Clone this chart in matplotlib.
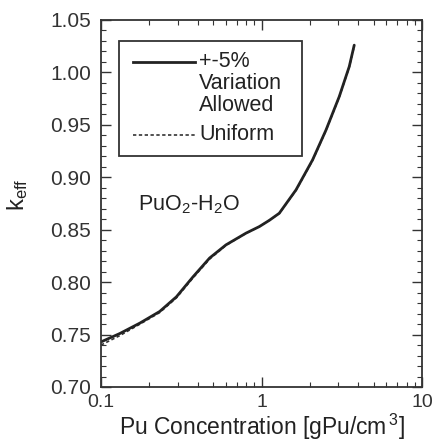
import matplotlib
matplotlib.use("Agg")
import matplotlib.pyplot as plt
from matplotlib.patches import Rectangle
from matplotlib.ticker import MultipleLocator, FixedLocator, FixedFormatter, LogLocator, NullFormatter

plt.rcParams['font.family'] = ['Liberation Sans', 'DejaVu Sans']
plt.rcParams['mathtext.fontset'] = 'custom'
plt.rcParams['mathtext.rm'] = 'Liberation Sans'
plt.rcParams['mathtext.it'] = 'Liberation Sans'
plt.rcParams['mathtext.default'] = 'regular'

# Pu concentration [gPu/cm3]
conc = [0.1, 0.131, 0.175, 0.232, 0.295, 0.374, 0.475, 0.60, 0.80, 0.97,
        1.12, 1.29, 1.64, 2.08, 2.52, 3.05, 3.52, 3.78]
# k_eff, +-5% variation allowed
keff_var = [0.743, 0.751, 0.761, 0.772, 0.786, 0.805, 0.823, 0.8355, 0.8467, 0.853,
            0.859, 0.8657, 0.888, 0.9166, 0.945, 0.977, 1.0056, 1.026]
# k_eff, uniform
keff_uni = [0.740, 0.749, 0.760, 0.771, 0.785, 0.804, 0.822, 0.835, 0.8465, 0.853,
            0.859, 0.8655, 0.8875, 0.916, 0.9445, 0.9765, 1.005, 1.025]

x_ticks = [0.1, 1, 10]
x_ticklabels = ['0.1', '1', '10']

label_fs = 16.5
text_fs = 15.5
ink = '#222222'

fig = plt.figure(figsize=(4.38, 4.44), dpi=100)
ax = fig.add_axes([0.2306, 0.1284, 0.733, 0.8266])

ax.plot(conc, keff_uni, color='#333333', lw=1.2, ls=(0, (2, 1.5)))
ax.plot(conc, keff_var, color=ink, lw=2.0, solid_capstyle='round')

ax.set_xscale('log')
ax.set_xlim(0.1, 10)
ax.set_ylim(0.70, 1.05)
ax.xaxis.set_major_locator(FixedLocator(x_ticks))
ax.xaxis.set_major_formatter(FixedFormatter(x_ticklabels))
ax.xaxis.set_minor_locator(LogLocator(base=10, subs=range(2, 10)))
ax.xaxis.set_minor_formatter(NullFormatter())
ax.yaxis.set_major_locator(MultipleLocator(0.05))
ax.yaxis.set_minor_locator(MultipleLocator(0.01))
ax.yaxis.set_major_formatter(plt.FormatStrFormatter('%.2f'))

ax.tick_params(which='both', direction='in', top=True, right=True, color='#333333')
ax.tick_params(which='major', length=7, width=1.0, labelcolor='#333333')
ax.tick_params(which='minor', length=3.5, width=0.8)
ax.tick_params(axis='x', which='major', pad=5, labelsize=14)
ax.tick_params(axis='y', which='major', pad=7, labelsize=15)
for sp in ax.spines.values():
    sp.set_linewidth(1.3)
    sp.set_color('#333333')

ax.set_xlabel('Pu Concentration [gPu/cm$^{\\,3}$]', fontsize=label_fs, color=ink, va='baseline')
ax.xaxis.set_label_coords(0.5, -0.131)
ax.set_ylabel('k$_{eff}$', fontsize=17, color=ink)
ax.yaxis.set_label_coords(-0.222, 0.523)

# legend box drawn by hand so the handle sits on the first text line
tr = ax.transAxes
ax.add_patch(Rectangle((0.056, 0.629), 0.57, 0.314, transform=tr, fill=False,
                       lw=1.3, edgecolor='#333333'))
ax.plot([0.10, 0.293], [0.886, 0.886], transform=tr, color=ink, lw=2.0)
ax.plot([0.10, 0.293], [0.687, 0.687], transform=tr, color='#333333', lw=1.2, ls=(0, (2, 1.5)))
for txt, yy in [('+-5%', 0.886), ('Variation', 0.828), ('Allowed', 0.768), ('Uniform', 0.687)]:
    ax.text(0.305, yy, txt, transform=tr, fontsize=text_fs, va='center', ha='left', color=ink)

ax.text(0.115, 0.496, 'PuO$_2$-H$_2$O', transform=tr, fontsize=text_fs, va='center', ha='left', color=ink)

fig.savefig('out.png', dpi=100)
